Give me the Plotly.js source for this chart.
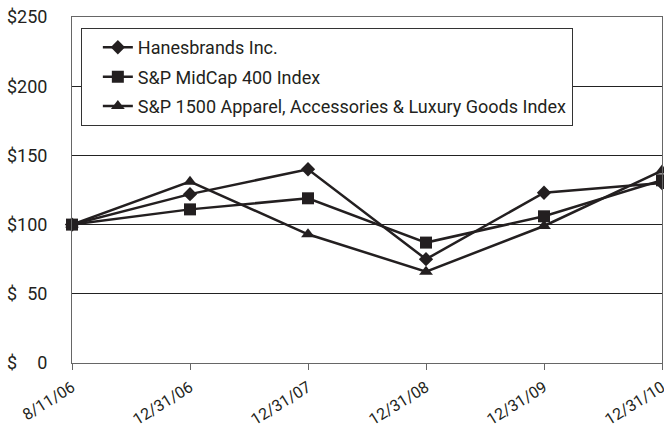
<!DOCTYPE html>
<html>
<head>
<meta charset="utf-8">
<script src="https://cdn.plot.ly/plotly-3.0.1.min.js"></script>
<style>html,body{margin:0;padding:0;background:#fff;}#chart{width:664px;height:429px;}</style>
</head>
<body>
<div id="chart"></div>
<script>
const dates = ["8/11/06", "12/31/06", "12/31/07", "12/31/08", "12/31/09", "12/31/10"];
const hanesbrands = [100, 122, 140, 75, 123, 130];
const midcap400 = [100, 111, 119, 87, 106, 132];
const apparel1500 = [100, 131, 93, 66, 99, 139];
const seriesNames = ["Hanesbrands Inc.", "S&P MidCap 400 Index", "S&P 1500 Apparel, Accessories & Luxury Goods Index"];
const tickVals = [0, 50, 100, 150, 200, 250];
const tickLabels = ["$\u2007\u20070", "$\u200750", "$100", "$150", "$200", "$250"];

const FONT = "Roboto, 'DejaVu Sans Condensed', Arial, sans-serif";
const INK = "#231f20";

function trace(y, name, symbol, size, group) {
  return {
    x: dates, y: y, name: name, type: "scatter", mode: "lines+markers",
    line: {color: INK, width: 2.5},
    marker: {symbol: symbol, size: size, color: INK},
    cliponaxis: false, legendgroup: group
  };
}

const data = [
  trace(hanesbrands, seriesNames[0], "diamond", 11, "a"),
  trace(midcap400, seriesNames[1], "square", 12, "b"),
  trace(apparel1500, seriesNames[2], "triangle-up", 12, "c")
];

const layout = {
  width: 664, height: 429,
  margin: {l: 72, r: 2, t: 17, b: 66},
  paper_bgcolor: "#fff", plot_bgcolor: "#fff",
  font: {family: FONT, size: 17, color: INK},
  showlegend: true,
  legend: {
    x: 0.015, y: 0.968, xanchor: "left", yanchor: "top",
    bordercolor: "#333", borderwidth: 1, bgcolor: "#fff",
    font: {family: FONT, size: 18, color: INK},
    traceorder: "grouped", tracegroupgap: 3, indentation: 16
  },
  xaxis: {
    type: "category", range: [0, 5],
    showgrid: false, zeroline: false,
    showline: true, linecolor: "#666", linewidth: 1, mirror: true,
    ticks: "outside", ticklen: 6, tickcolor: "#666",
    tickangle: -32, ticklabelstandoff: 2,
    tickfont: {family: FONT, size: 16, color: INK}
  },
  yaxis: {
    range: [0, 250], tickvals: tickVals, ticktext: tickLabels,
    showgrid: true, gridcolor: "#222", gridwidth: 1,
    zeroline: false, showline: true, linecolor: "#666", linewidth: 1, mirror: true,
    ticks: "", ticklabelstandoff: 20, tickfont: {family: FONT, size: 18, color: INK}
  }
};

Plotly.newPlot("chart", data, layout, {displayModeBar: false, staticPlot: true});
</script>
</body>
</html>
